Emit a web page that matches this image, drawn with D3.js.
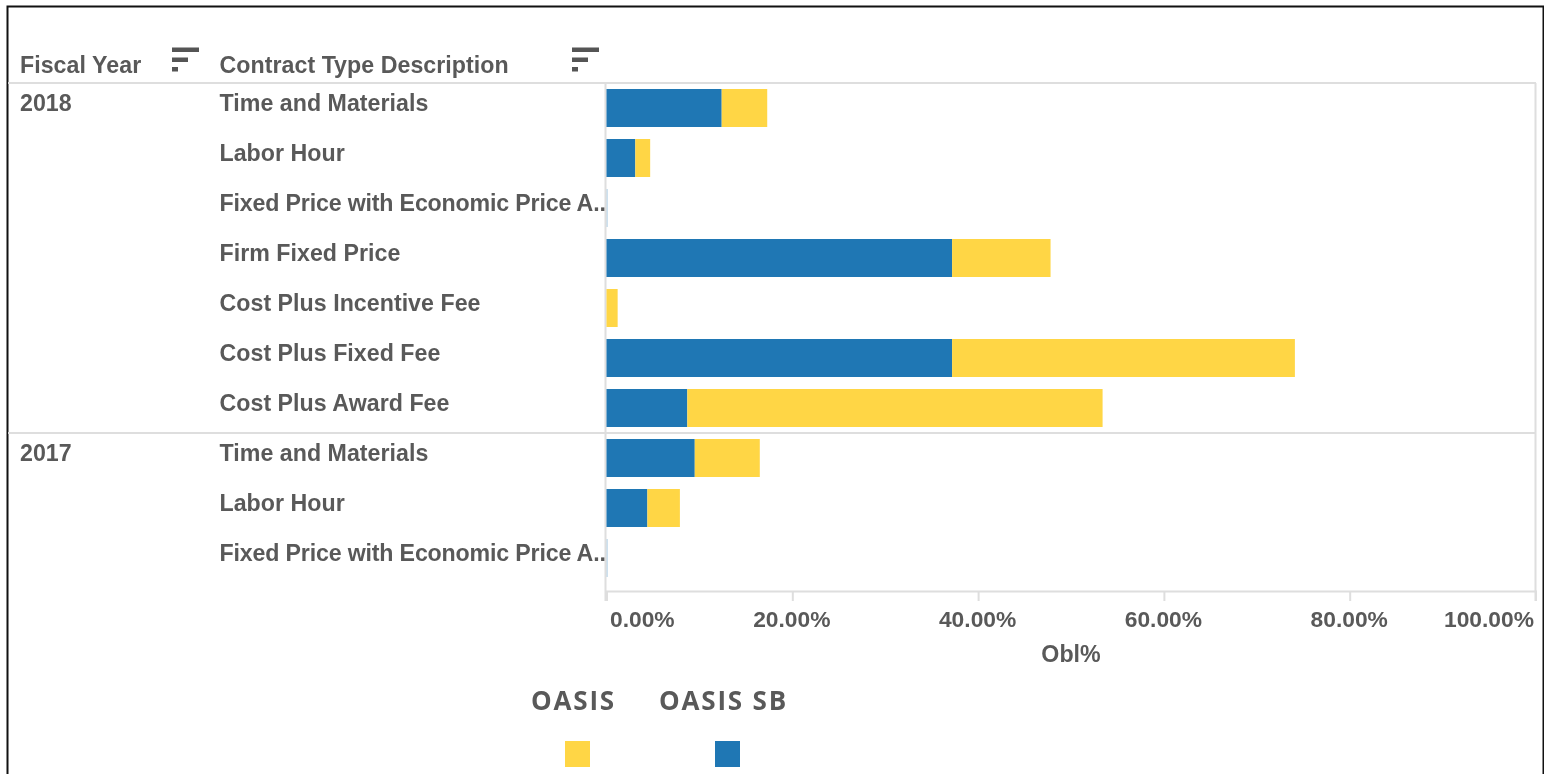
<!DOCTYPE html>
<html><head><meta charset="utf-8">
<script src="https://cdn.jsdelivr.net/npm/d3@7"></script>
<style>
html,body{margin:0;padding:0;background:#fff;overflow:hidden}
svg{display:block;filter:blur(0.45px)}
text{font-family:"Liberation Sans",Arial,sans-serif;fill:#595959}
</style></head><body>
<svg id="chart" width="1544" height="774"></svg>
<script>
const years = ["2018","2017"];
const contractTypes = ["Time and Materials","Labor Hour","Fixed Price with Economic Price A..","Firm Fixed Price","Cost Plus Incentive Fee","Cost Plus Fixed Fee","Cost Plus Award Fee","Time and Materials","Labor Hour","Fixed Price with Economic Price A.."];
const rowYears = ["2018","2018","2018","2018","2018","2018","2018","2017","2017","2017"];
const oasisSB = [12.4,3.1,0.15,37.2,0,37.2,8.7,9.5,4.4,0.15];
const oasis = [4.9,1.6,0,10.6,1.2,36.9,44.7,7.0,3.5,0];
const xTicks = [0,20,40,60,80,100];
const seriesNames = ["OASIS","OASIS SB"];
const seriesColors = ["#ffd645","#1f77b4"];

const svg = d3.select("#chart");
const x = d3.scaleLinear().domain([0,100]).range([606.5,1535.5]);
const y = d3.scaleBand().domain(d3.range(contractTypes.length)).range([83,583]).paddingInner(0.24).paddingOuter(0.12);
const grid = "#dedede";
const fs = 23.2;
const labelDy = 3;

// frame
svg.append("path").attr("d","M7.5,774V6.5H1543.5V774").attr("fill","none").attr("stroke","#111").attr("stroke-width",2);

// header rule, right rule, left rule
svg.append("line").attr("x1",8).attr("x2",1536).attr("y1",83).attr("y2",83).attr("stroke",grid).attr("stroke-width",2);
svg.append("line").attr("x1",1535.5).attr("x2",1535.5).attr("y1",83).attr("y2",601).attr("stroke",grid).attr("stroke-width",2);
svg.append("line").attr("x1",605.5).attr("x2",605.5).attr("y1",83).attr("y2",601).attr("stroke",grid).attr("stroke-width",2);

// bars
const blue = svg.append("g");
blue.selectAll("rect").data(oasisSB).join("rect")
  .attr("x",x(0)).attr("y",(d,i)=>y(i)).attr("height",y.bandwidth())
  .attr("width",d=>x(d)-x(0)).attr("fill",seriesColors[1]).attr("fill-opacity",d=>d<1?0.25:1);
const yellow = svg.append("g");
yellow.selectAll("rect").data(oasis).join("rect")
  .attr("x",(d,i)=>x(oasisSB[i])).attr("y",(d,i)=>y(i)).attr("height",y.bandwidth())
  .attr("width",d=>x(d)-x(0)).attr("fill",seriesColors[0]);

// year divider
const firstOf2017 = rowYears.indexOf(years[1]);
svg.append("line").attr("x1",8).attr("x2",1536)
  .attr("y1",y(firstOf2017)-6).attr("y2",y(firstOf2017)-6).attr("stroke",grid).attr("stroke-width",2);

// axis
const axis = d3.axisBottom(x).tickValues(xTicks).tickSize(10).tickPadding(10).tickFormat(d=>d.toFixed(2)+"%");
const ag = svg.append("g").attr("transform","translate(0,591)").call(axis);
ag.select(".domain").attr("stroke",grid).attr("stroke-width",2);
ag.selectAll(".tick line").attr("stroke",grid).attr("stroke-width",2);
ag.selectAll(".tick text").attr("font-size",22.8).attr("font-weight",700).style("font-family",'"Liberation Sans",Arial,sans-serif').attr("fill","#595959")
  .attr("text-anchor",d=>d===100?"end":(d===0?"start":"middle"))
  .attr("dx",d=>d===100?-2:(d===0?3:-1));
svg.append("text").attr("x",1071).attr("y",662).attr("text-anchor","middle").attr("font-size",fs).attr("font-weight",700).text("Obl%");

// row labels
svg.append("g").selectAll("text").data(contractTypes).join("text")
  .attr("x",219.5).attr("y",(d,i)=>y(i)+y.bandwidth()/2+labelDy).attr("font-size",fs).attr("font-weight",700)
  .attr("letter-spacing",d=>d.endsWith("..")?-0.17:0.03).text(d=>d);
svg.append("g").selectAll("text").data(years).join("text")
  .attr("x",20).attr("y",d=>y(rowYears.indexOf(d))+y.bandwidth()/2+labelDy).attr("font-size",fs).attr("font-weight",700).text(d=>d);

// headers
const headers = [["Fiscal Year",20,172],["Contract Type Description",219.5,572]];
headers.forEach(([t,tx,ix])=>{
  svg.append("text").attr("x",tx).attr("y",73).attr("font-size",fs).attr("font-weight",700).attr("letter-spacing",0.04).text(t);
  const g = svg.append("g").attr("fill","#555");
  [[47.5,27],[57.5,16],[67,6]].forEach(([by,w])=>g.append("rect").attr("x",ix).attr("y",by).attr("width",w).attr("height",4.5));
});

// legend
const legendText = [573.5,723.5], legendSwatch = [565,715];
seriesNames.forEach((n,i)=>{
  svg.append("text").attr("x",legendText[i]).attr("y",710).attr("text-anchor","middle")
    .attr("font-size",26).attr("font-weight",700).attr("letter-spacing",1.8).style("font-family",'"Open Sans",sans-serif').text(n);
  svg.append("rect").attr("x",legendSwatch[i]).attr("y",741).attr("width",25).attr("height",26).attr("fill",seriesColors[i]);
});
</script>
</body></html>
